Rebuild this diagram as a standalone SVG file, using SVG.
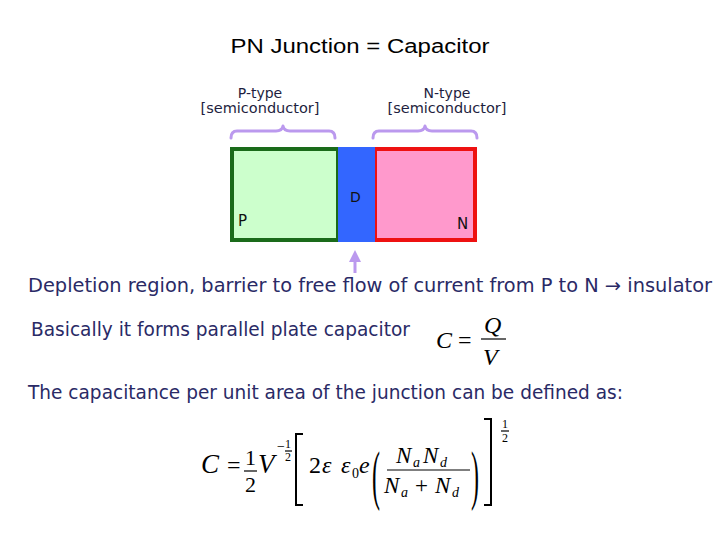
<svg xmlns="http://www.w3.org/2000/svg" width="720" height="540" viewBox="0 0 720 540">
<style>
.t{font-family:"DejaVu Sans","Liberation Sans",sans-serif;fill:#2a2a66;font-size:19px}
.lbl{font-family:"DejaVu Sans","Liberation Sans",sans-serif;fill:#1e1e40;font-size:14px;text-anchor:middle}
.m{font-family:"Liberation Serif","Times New Roman",serif;fill:#000}
.i{font-style:italic}
.brace{fill:none;stroke:#bb99ee;stroke-width:3;stroke-linecap:round;stroke-linejoin:round}
.bar{stroke:#000;stroke-width:1.2}
</style>
<defs>
<marker id="ah" markerWidth="4" markerHeight="4" refX="2" refY="2" orient="auto" markerUnits="strokeWidth">
<path d="M0,0 L4,2 L0,4 Z" fill="#bb99ee"/>
</marker>
</defs>
<rect width="720" height="540" fill="#fff"/>
<text x="360" y="53" text-anchor="middle" style="font-family:'Liberation Sans',Arial,sans-serif;font-size:20px;fill:#000" textLength="259" lengthAdjust="spacingAndGlyphs">PN Junction = Capacitor</text>

<g id="p-type-label">
<text class="lbl" x="260" y="98">P-type</text>
<text class="lbl" x="260" y="113" textLength="119" lengthAdjust="spacingAndGlyphs">[semiconductor]</text>
</g>
<g id="n-type-label">
<text class="lbl" x="447" y="98">N-type</text>
<text class="lbl" x="447" y="113" textLength="119" lengthAdjust="spacingAndGlyphs">[semiconductor]</text>
</g>
<g id="braces">
<path class="brace" d="M231,138 Q231,131 237,131 L276,131 Q282,131 283,126 Q284,131 290,131 L329,131 Q335,131 335,138"/>
<path class="brace" d="M373,138 Q373,131 379,131 L418,131 Q424,131 425,126 Q426,131 432,131 L471,131 Q477,131 477,138"/>
</g>

<g id="p-region">
<rect x="232" y="149" width="106" height="91" fill="#ccffcc" stroke="#1a6b1a" stroke-width="4"/>
<text x="238" y="226" style="font-family:'DejaVu Sans',sans-serif;font-size:15px;fill:#111">P</text>
</g>
<g id="n-region">
<rect x="375" y="149" width="100" height="91" fill="#ff99cc" stroke="#ee1111" stroke-width="4"/>
<text x="457" y="229" style="font-family:'DejaVu Sans',sans-serif;font-size:15px;fill:#111">N</text>
</g>
<g id="depletion">
<rect x="338" y="147" width="37" height="95" fill="#3366ff"/>
<text x="350" y="202" style="font-family:'DejaVu Sans',sans-serif;font-size:14px;fill:#111">D</text>
</g>

<g id="connectors">
<line x1="355" y1="273" x2="355" y2="256" stroke="#bb99ee" stroke-width="3" marker-end="url(#ah)"/>
</g>

<text class="t" x="28" y="292" textLength="684" lengthAdjust="spacingAndGlyphs">Depletion region, barrier to free flow of current from P to N → insulator</text>
<text class="t" x="31" y="336" textLength="379" lengthAdjust="spacingAndGlyphs">Basically it forms parallel plate capacitor</text>

<g id="formula-cqv">
<text class="m i" x="436" y="348" font-size="24">C</text>
<text class="m" x="458" y="348" font-size="24">=</text>
<text class="m i" x="484" y="333" font-size="24">Q</text>
<line class="bar" x1="481" y1="339" x2="506" y2="339"/>
<text class="m i" x="483" y="365" font-size="24">V</text>
</g>

<text class="t" x="28" y="399" textLength="595" lengthAdjust="spacingAndGlyphs">The capacitance per unit area of the junction can be defined as:</text>

<g id="formula-capacitance">
<text class="m i" x="201" y="473" font-size="27">C</text>
<text class="m" x="227" y="473" font-size="24">=</text>
<text class="m" x="245" y="465" font-size="22">1</text>
<line class="bar" x1="244" y1="471" x2="257" y2="471"/>
<text class="m" x="245" y="492" font-size="22">2</text>
<text class="m i" x="258" y="473" font-size="27">V</text>
<text class="m" x="277" y="451" font-size="14">−</text>
<text class="m" x="285" y="448" font-size="12">1</text>
<line class="bar" x1="285" y1="451" x2="292" y2="451" stroke-width="0.8"/>
<text class="m" x="285" y="461" font-size="12">2</text>
<path d="M303,434 L296,434 L296,505 L303,505" fill="none" stroke="#000" stroke-width="2"/>
<text class="m" x="309" y="473" font-size="24">2</text>
<text class="m i" x="322" y="473" font-size="24">ε</text>
<text class="m i" x="341" y="473" font-size="24">ε</text>
<text class="m" x="352" y="478" font-size="14">0</text>
<text class="m i" x="359" y="473" font-size="24">e</text>
<text class="m" x="0" y="0" font-size="24" transform="translate(372,497) scale(1,2.7)">(</text>
<text class="m i" x="396" y="463" font-size="23">N</text>
<text class="m i" x="413" y="467" font-size="14">a</text>
<text class="m i" x="423" y="463" font-size="23">N</text>
<text class="m i" x="440" y="467" font-size="14">d</text>
<line class="bar" x1="387" y1="470" x2="470" y2="470"/>
<text class="m i" x="384" y="493" font-size="23">N</text>
<text class="m i" x="401" y="497" font-size="14">a</text>
<text class="m" x="415" y="493" font-size="23">+</text>
<text class="m i" x="435" y="493" font-size="23">N</text>
<text class="m i" x="452" y="497" font-size="14">d</text>
<text class="m" x="0" y="0" font-size="24" transform="translate(471,497) scale(1,2.7)">)</text>
<path d="M484,419 L491,419 L491,505 L484,505" fill="none" stroke="#000" stroke-width="2"/>
<text class="m" x="502" y="428" font-size="12">1</text>
<line class="bar" x1="501" y1="431" x2="509" y2="431" stroke-width="0.8"/>
<text class="m" x="502" y="442" font-size="12">2</text>
</g>
</svg>
